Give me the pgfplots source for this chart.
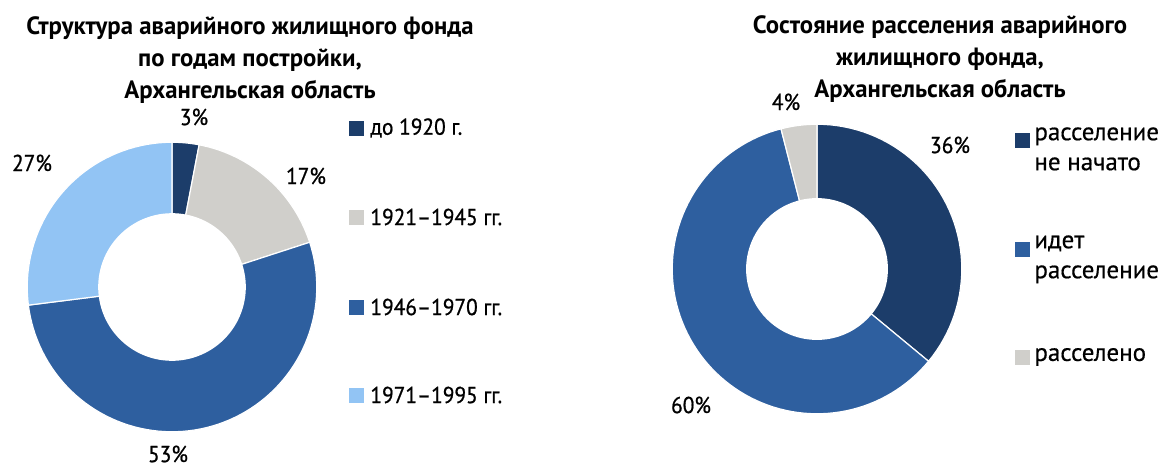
\documentclass[border=0pt]{standalone}
\usepackage{pgfplots}
\pgfplotsset{compat=1.18}
\usepackage{fontspec}
\setmainfont{PT Sans}
\newfontfamily\titlef{PT Sans}[FakeStretch=0.99]
\newfontfamily\cond{PT Sans}[FakeStretch=0.93, FakeBold=0.8]
\newfontfamily\reg{PT Sans}[FakeBold=0.5]
\definecolor{cNavy}{HTML}{1C3D6A}
\definecolor{cBlue}{HTML}{2E5F9F}
\definecolor{cGray}{HTML}{D0CFCB}
\definecolor{cLight}{HTML}{92C4F4}
\pgfplotsset{donut/.style={
  scale only axis, axis equal image, hide axis, clip=false,
  xmin=-1.05, xmax=1.05, ymin=-1.05, ymax=1.05,
  anchor=origin}}
\begin{document}
\begin{tikzpicture}[x=0.5pt,y=-0.5pt]
\useasboundingbox (0,0) rectangle (1165,466);
% ---------- left donut: 3, 17, 53, 27 (%)
\begin{axis}[donut, at={(86pt,-143.5pt)}, width=152pt, height=152pt]
\addplot[fill=cNavy, draw=white, line width=0.6pt, domain=0:3, samples=10, variable=\p] ({cos(90-3.6*\p)},{sin(90-3.6*\p)}) -- (axis cs:0,0) -- cycle;
\addplot[fill=cGray, draw=white, line width=0.6pt, domain=3:20, samples=30, variable=\p] ({cos(90-3.6*\p)},{sin(90-3.6*\p)}) -- (axis cs:0,0) -- cycle;
\addplot[fill=cBlue, draw=white, line width=0.6pt, domain=20:73, samples=80, variable=\p] ({cos(90-3.6*\p)},{sin(90-3.6*\p)}) -- (axis cs:0,0) -- cycle;
\addplot[fill=cLight, draw=white, line width=0.6pt, domain=73:100, samples=40, variable=\p] ({cos(90-3.6*\p)},{sin(90-3.6*\p)}) -- (axis cs:0,0) -- cycle;
\addplot[fill=white, draw=none, domain=0:360, samples=120] ({0.51*cos(x)},{0.51*sin(x)});
\end{axis}
% ---------- right donut: 36, 60, 4 (%)
\begin{axis}[donut, at={(408.5pt,-134.5pt)}, width=152pt, height=152pt]
\addplot[fill=cNavy, draw=white, line width=0.6pt, domain=0:36, samples=50, variable=\p] ({cos(90-3.6*\p)},{sin(90-3.6*\p)}) -- (axis cs:0,0) -- cycle;
\addplot[fill=cBlue, draw=white, line width=0.6pt, domain=36:96, samples=90, variable=\p] ({cos(90-3.6*\p)},{sin(90-3.6*\p)}) -- (axis cs:0,0) -- cycle;
\addplot[fill=cGray, draw=white, line width=0.6pt, domain=96:100, samples=10, variable=\p] ({cos(90-3.6*\p)},{sin(90-3.6*\p)}) -- (axis cs:0,0) -- cycle;
\addplot[fill=white, draw=none, domain=0:360, samples=120] ({0.49*cos(x)},{0.49*sin(x)});
\end{axis}
% ---------- titles
\node[align=center, font=\titlef\bfseries\fontsize{12.5}{16}\selectfont] at (250,60)
  {Структура аварийного жилищного фонда\\по годам постройки,\\Архангельская область};
\node[align=center, font=\titlef\bfseries\fontsize{12.5}{16}\selectfont] at (940,59)
  {Состояние расселения аварийного\\жилищного фонда,\\Архангельская область};
% ---------- percent labels
\begin{scope}[every node/.style={font=\cond\fontsize{11.5}{13}\selectfont, inner sep=1pt}]
\node at (194,117) {3\%};
\node at (306,176) {17\%};
\node at (168,454) {53\%};
\node at (32,163) {27\%};
\node at (950,145) {36\%};
\node at (786,102) {4\%};
\node at (691,405) {60\%};
\end{scope}
% ---------- left legend
\begin{scope}[every node/.style={font=\cond\fontsize{11.5}{13}\selectfont, anchor=west, inner sep=0pt}]
\fill[cNavy] (349,121) rectangle (364,136); \node at (370,128) {до 1920 г.};
\fill[cGray] (349,210) rectangle (364,225); \node at (370,217) {1921–1945 гг.};
\fill[cBlue] (349,300) rectangle (364,315); \node at (370,307) {1946–1970 гг.};
\fill[cLight] (349,388) rectangle (364,403); \node at (370,395) {1971–1995 гг.};
\end{scope}
% ---------- right legend
\begin{scope}[every node/.style={font=\reg\fontsize{12.5}{15}\selectfont, anchor=west, inner sep=0pt, align=left}]
\fill[cNavy] (1015,133) rectangle (1030,148); \node[anchor=north west] at (1034,127) {расселение\\не начато};
\fill[cBlue] (1015,242) rectangle (1030,257); \node[anchor=north west] at (1034,235) {идет\\расселение};
\fill[cGray] (1015,350) rectangle (1030,365); \node at (1034,357) {расселено};
\end{scope}
\end{tikzpicture}
\end{document}
